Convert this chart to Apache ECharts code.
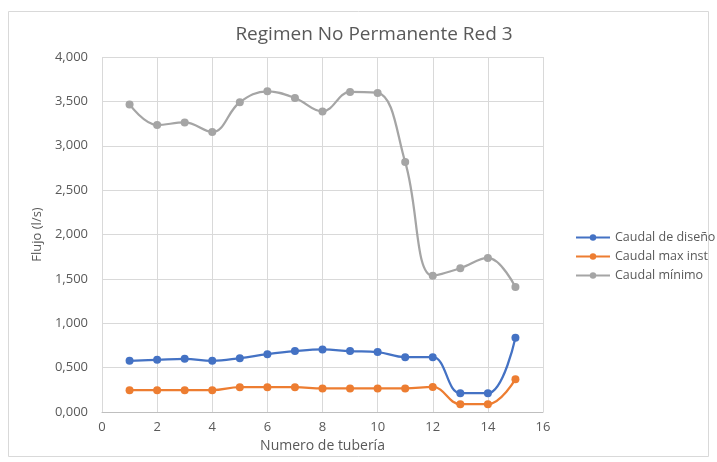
<!DOCTYPE html>
<html><head><meta charset="utf-8">
<script src="https://cdn.jsdelivr.net/npm/echarts@6/dist/echarts.min.js"></script>
<style>
html,body{margin:0;padding:0;background:#fff;}
#c{width:717px;height:462px;}
</style></head>
<body><div id="c"></div>
<script>
const xValues = [1,2,3,4,5,6,7,8,9,10,11,12,13,14,15];
const caudalDiseno = [0.577,0.588,0.600,0.577,0.607,0.652,0.686,0.705,0.686,0.675,0.618,0.618,0.212,0.212,0.836];
const caudalMaxInst = [0.246,0.246,0.246,0.246,0.280,0.280,0.280,0.265,0.265,0.265,0.265,0.283,0.088,0.088,0.370];
const caudalMinimo = [3.466,3.234,3.263,3.155,3.490,3.613,3.538,3.387,3.606,3.595,2.816,1.536,1.620,1.736,1.408];
const seriesNames = ['Caudal de diseño','Caudal max inst','Caudal mínimo'];
const colors = ['#4472C4','#ED7D31','#A5A5A5'];
const font = '"Open Sans", "Noto Sans", sans-serif';

function pairs(arr){ return xValues.map((x,i)=>[x,arr[i]]); }
const data = [caudalDiseno, caudalMaxInst, caudalMinimo];

const chart = echarts.init(document.getElementById('c'), null, {renderer:'canvas'});
chart.setOption({
  animation:false,
  backgroundColor:'#fff',
  graphic:[{type:'rect',shape:{x:8.5,y:11.5,width:700,height:445},style:{fill:'none',stroke:'#d9d9d9',lineWidth:1},silent:true,z:-1}],
  title:{text:'Regimen No Permanente Red 3',left:369,textAlign:'center',top:20,
    textStyle:{fontFamily:font,fontSize:19,fontWeight:'normal',color:'#595959'}},
  legend:{orient:'vertical',left:570,top:226,itemGap:6,itemWidth:34,itemHeight:8,
    data:seriesNames,
    textStyle:{fontFamily:font,fontSize:12.5,color:'#595959'}},
  grid:{left:102,right:174,top:57,bottom:50},
  xAxis:{type:'value',min:0,max:16,interval:2,
    name:'Numero de tubería',nameLocation:'middle',nameGap:23,
    nameTextStyle:{fontFamily:font,fontSize:14,color:'#595959'},
    axisLine:{show:true,lineStyle:{color:'#bfbfbf'}},axisTick:{show:false},
    axisLabel:{fontFamily:font,fontSize:13,color:'#595959',margin:9},
    splitLine:{show:true,lineStyle:{color:'#d9d9d9'}}},
  yAxis:{type:'value',min:0,max:4,interval:0.5,
    name:'Flujo (l/s)',nameLocation:'middle',nameGap:50,nameRotate:90,
    nameTextStyle:{fontFamily:font,fontSize:13,color:'#595959'},
    axisLine:{show:false},axisTick:{show:false},
    axisLabel:{fontFamily:font,fontSize:13,color:'#595959',margin:14,
      formatter:v=>v.toFixed(3).replace('.',',')},
    splitLine:{show:true,lineStyle:{color:'#d9d9d9'}}},
  series: seriesNames.map((n,i)=>({
    name:n,type:'line',data:pairs(data[i]),smooth:0.4,
    symbol:'circle',symbolSize:8,
    lineStyle:{color:colors[i],width:2.25},
    itemStyle:{color:colors[i]}
  }))
});
</script></body></html>
